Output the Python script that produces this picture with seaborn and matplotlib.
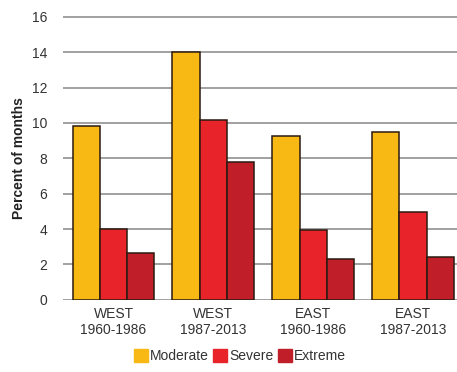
import matplotlib
matplotlib.use("Agg")
import matplotlib.pyplot as plt
import seaborn as sns
import pandas as pd

periods = ["WEST\n1960-1986", "WEST\n1987-2013", "EAST\n1960-1986", "EAST\n1987-2013"]
moderate = [9.82, 14.0, 9.28, 9.5]
severe = [4.0, 10.18, 3.96, 4.96]
extreme = [2.67, 7.81, 2.31, 2.42]
levels = ["Moderate", "Severe", "Extreme"]
colors = ["#F9B914", "#E8232A", "#C01F2A"]

rows = []
for lvl, vals in zip(levels, [moderate, severe, extreme]):
    for p, v in zip(periods, vals):
        rows.append({"Period": p, "Level": lvl, "Value": v})
df = pd.DataFrame(rows)

sns.set_style("white")
plt.rcParams["font.family"] = ["Liberation Sans", "DejaVu Sans"]

fig = plt.figure(figsize=(4.57, 3.72), dpi=100)
ax = fig.add_axes([0.137, 0.194, 0.863, 0.763])
ax.set_axisbelow(True)
for y in range(0, 17, 2):
    ax.axhline(y, color="#9a9a9a", lw=1.3, zorder=0)

sns.barplot(data=df, x="Period", y="Value", hue="Level", order=periods,
            hue_order=levels, palette=colors, saturation=1, width=0.82, ax=ax,
            edgecolor="#2a1a10", linewidth=1.1, legend=False, zorder=2)

ax.set_ylim(0, 16.05)
ax.set_xlim(-0.51, 3.44)
ax.set_yticks(range(0, 17, 2))
ax.tick_params(axis="both", length=0, labelsize=10, colors="#333333")
ax.tick_params(axis="y", pad=11)
ax.tick_params(axis="x", pad=5)
for s in ax.spines.values():
    s.set_visible(False)
ax.set_xlabel("")
ax.set_ylabel("Percent of months", fontsize=10, fontweight="bold", color="#222222", labelpad=4)

handles = [plt.Rectangle((0, 0), 1, 1, color=c) for c in colors]
fig.legend(handles, levels, loc="lower center", bbox_to_anchor=(0.525, -0.01), ncol=3,
           frameon=False, fontsize=10, handlelength=1.0, handleheight=1.0,
           handletextpad=0.15, columnspacing=0.3, labelcolor="#333333")

fig.savefig("out.png", dpi=100)
